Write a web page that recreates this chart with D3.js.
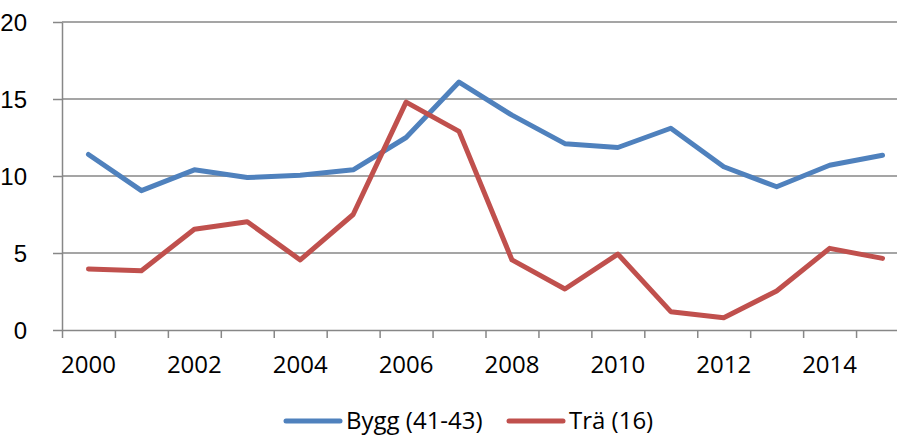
<!DOCTYPE html>
<html>
<head>
<meta charset="utf-8">
<script src="https://cdn.jsdelivr.net/npm/d3@7"></script>
<style>
  body { margin: 0; background: #fff; }
  svg { display: block; font-family: "Open Sans", "Liberation Sans", sans-serif; }
</style>
</head>
<body>
<div id="chart"></div>
<script>
// Data
const years = d3.range(2000, 2016);
const bygg = [11.4, 9.05, 10.4, 9.9, 10.05, 10.4, 12.5, 16.1, 13.95, 12.1, 11.85, 13.1, 10.6, 9.3, 10.7, 11.35];
const tra = [3.96, 3.85, 6.54, 7.03, 4.55, 7.5, 14.8, 12.9, 4.55, 2.66, 4.93, 1.19, 0.8, 2.53, 5.3, 4.65];
const yTicks = [0, 5, 10, 15, 20];
const xLabels = [2000, 2002, 2004, 2006, 2008, 2010, 2012, 2014];
const series = [
    { name: 'Bygg (41-43)', values: bygg, color: '#4F81BD' },
    { name: 'Trä (16)', values: tra, color: '#C0504D' }
];

const svgWidth = 897, svgHeight = 435;
const margin = { left: 62, right: 909, top: 22, bottom: 330 };
const gridColor = '#878787';
const fontSize = '24px';

const svg = d3.select('#chart')
    .append('svg')
    .attr('width', svgWidth)
    .attr('height', svgHeight);

// Scales: category bands of one year each, points at band centres
const x = d3.scaleLinear().domain([2000, 2016]).range([margin.left, margin.right]);
const y = d3.scaleLinear().domain([0, 20]).range([margin.bottom, margin.top]);

// Horizontal gridlines
svg.append('g')
    .selectAll('line')
    .data(yTicks.filter(d => d > 0))
    .enter()
    .append('line')
    .attr('x1', margin.left)
    .attr('x2', margin.right)
    .attr('y1', d => y(d))
    .attr('y2', d => y(d))
    .attr('stroke', gridColor)
    .attr('stroke-width', 1.5);

// Y axis
const yAxis = svg.append('g')
    .attr('transform', `translate(${margin.left},0)`)
    .call(d3.axisLeft(y).tickValues(yTicks).tickSize(9).tickPadding(26).tickSizeOuter(0));
yAxis.select('.domain').attr('stroke', gridColor).attr('stroke-width', 1.5);
yAxis.selectAll('.tick line').attr('stroke', gridColor).attr('stroke-width', 1.5);
yAxis.selectAll('.tick text')
    .attr('fill', '#000')
    .style('font-size', fontSize)
    .attr('dy', '0.35em');

// X axis: tick marks at band edges
const xAxis = svg.append('g')
    .attr('transform', `translate(0,${margin.bottom})`)
    .call(d3.axisBottom(x).tickValues(d3.range(2000, 2017)).tickSize(8).tickFormat('').tickSizeOuter(0));
xAxis.select('.domain').attr('stroke', gridColor).attr('stroke-width', 1.5);
xAxis.selectAll('.tick line').attr('stroke', gridColor).attr('stroke-width', 1.5);

// X labels centred in their band
svg.append('g')
    .selectAll('text')
    .data(xLabels)
    .enter()
    .append('text')
    .attr('x', d => x(d + 0.5))
    .attr('y', 373)
    .attr('text-anchor', 'middle')
    .style('font-size', fontSize)
    .attr('fill', '#000')
    .text(d => d);

// Lines
const line = d3.line()
    .x((d, i) => x(years[i] + 0.5))
    .y(d => y(d));

svg.append('g')
    .selectAll('path')
    .data(series)
    .enter()
    .append('path')
    .attr('d', d => line(d.values))
    .attr('fill', 'none')
    .attr('stroke', d => d.color)
    .attr('stroke-width', 5)
    .attr('stroke-linejoin', 'round')
    .attr('stroke-linecap', 'round');

// Legend
const legendPos = [286, 509];
const legend = svg.append('g')
    .selectAll('g')
    .data(series)
    .enter()
    .append('g')
    .attr('transform', (d, i) => `translate(${legendPos[i]},421)`);
legend.append('line')
    .attr('x1', 0)
    .attr('x2', 54)
    .attr('stroke', d => d.color)
    .attr('stroke-width', 5)
    .attr('stroke-linecap', 'round');
legend.append('text')
    .attr('x', 60)
    .attr('dy', '0.35em')
    .style('font-size', fontSize)
    .attr('fill', '#000')
    .text(d => d.name);
</script>
</body>
</html>
